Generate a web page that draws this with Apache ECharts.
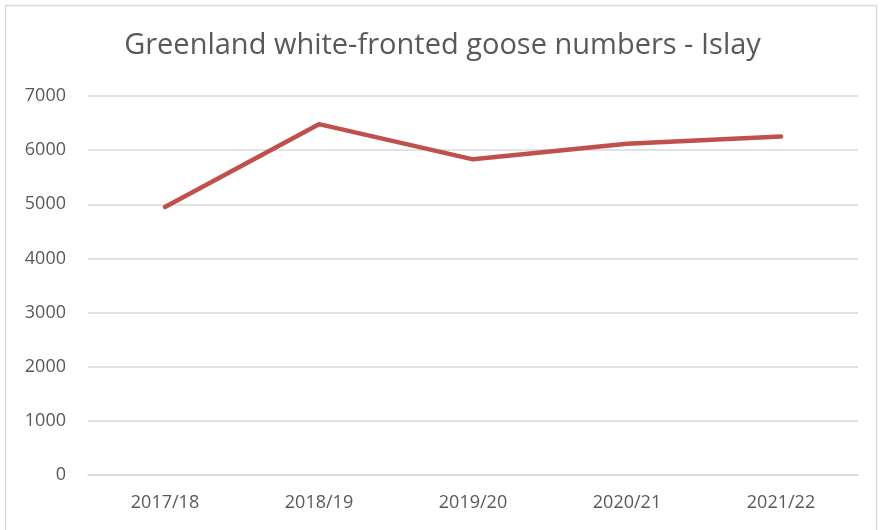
<!DOCTYPE html>
<html>
<head>
<meta charset="utf-8">
<script src="https://cdn.jsdelivr.net/npm/echarts@6/dist/echarts.min.js"></script>
<style>
  html, body { margin: 0; padding: 0; background: #fff; }
  #chart { width: 885px; height: 530px; }
</style>
</head>
<body>
<div id="chart"></div>
<script>
// Winter seasons counted
const seasons = ['2017/18', '2018/19', '2019/20', '2020/21', '2021/22'];
// Goose counts per season
const gooseCounts = [4950, 6480, 5830, 6120, 6250];
// Value axis range
const yMin = 0;
const yMax = 7000;
const yStep = 1000;

const chart = echarts.init(document.getElementById('chart'));
const textColor = '#595959';
const fontFamily = 'Open Sans, Noto Sans, sans-serif';

chart.setOption({
  backgroundColor: '#ffffff',
  animation: false,
  title: {
    text: 'Greenland white-fronted goose numbers - Islay',
    left: 'center',
    top: 26,
    textStyle: { color: textColor, fontSize: 29, fontWeight: 'normal', fontFamily: fontFamily }
  },
  graphic: [{
    type: 'rect',
    shape: { x: 5.5, y: 5.5, width: 871, height: 540 },
    style: { fill: 'none', stroke: '#d9d9d9', lineWidth: 1.5 },
    silent: true
  }],
  grid: { left: 88, right: 27, top: 96, bottom: 55, containLabel: false },
  xAxis: {
    type: 'category',
    data: seasons,
    boundaryGap: true,
    axisLine: { show: true, lineStyle: { color: '#d9d9d9', width: 1.5 } },
    axisTick: { show: false },
    axisLabel: { color: textColor, fontSize: 18, margin: 19, fontFamily: fontFamily },
    splitLine: { show: false }
  },
  yAxis: {
    type: 'value',
    min: yMin,
    max: yMax,
    interval: yStep,
    axisLine: { show: false },
    axisTick: { show: false },
    axisLabel: {
      color: textColor, fontSize: 18, margin: 22, fontFamily: fontFamily,
      formatter: function (v) { return String(v); }
    },
    splitLine: { lineStyle: { color: '#d9d9d9', width: 1.5 } }
  },
  series: [{
    type: 'line',
    data: gooseCounts,
    symbol: 'none',
    lineStyle: { color: '#c0504d', width: 4.5, cap: 'round', join: 'round' },
    itemStyle: { color: '#c0504d' }
  }]
});
</script>
</body>
</html>
